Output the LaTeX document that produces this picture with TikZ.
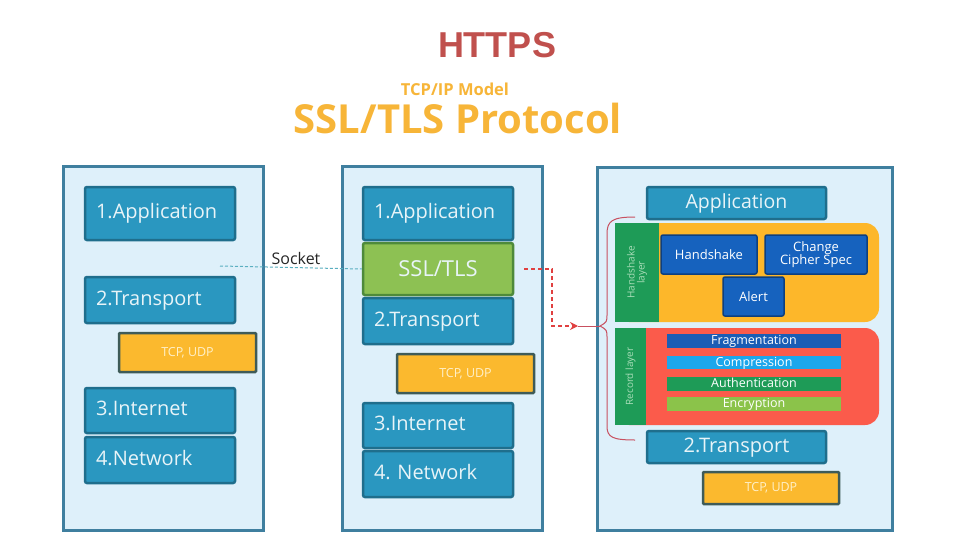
\documentclass[tikz,border=0pt]{standalone}
\usepackage{fontspec}
\setmainfont{Open Sans}
\newfontfamily\arialfont{Liberation Sans}
\usetikzlibrary{arrows.meta}
\definecolor{panelfill}{HTML}{DEF0FA}
\definecolor{panelborder}{HTML}{3F7F9F}
\definecolor{boxfill}{HTML}{2A97C0}
\definecolor{boxborder}{HTML}{1F6E8C}
\definecolor{boxtext}{HTML}{E8F4F8}
\definecolor{sslfill}{HTML}{8DC153}
\definecolor{sslborder}{HTML}{4E8A3A}
\definecolor{tcpfill}{HTML}{FBB92E}
\definecolor{tcpborder}{HTML}{3E5B58}
\definecolor{tcptext}{HTML}{FFF0C8}
\definecolor{hsyellow}{HTML}{FDB72A}
\definecolor{recred}{HTML}{FB5B4B}
\definecolor{sidegreen}{HTML}{1E9B57}
\definecolor{sidetext}{HTML}{A8DDB8}
\definecolor{dblue}{HTML}{1662BE}
\definecolor{dblueborder}{HTML}{0E3F7E}
\definecolor{fragblue}{HTML}{1A5DB5}
\definecolor{compblue}{HTML}{1CA7EC}
\definecolor{authgreen}{HTML}{1E9B57}
\definecolor{encgreen}{HTML}{8BC34A}
\definecolor{titleorange}{HTML}{F7B538}
\definecolor{httpsred}{HTML}{C0504D}
\definecolor{sockline}{HTML}{5AAFC0}
\definecolor{arrowred}{HTML}{E04040}
\definecolor{bracered}{HTML}{C85060}
\tikzset{
  panel/.style={draw=panelborder, fill=panelfill, line width=3pt},
  lbox/.style={draw=boxborder, fill=boxfill, line width=2.5pt, rounded corners=2pt,
    text=boxtext, font=\fontsize{20}{24}\selectfont, align=left, inner xsep=11pt,
    text height=15pt, text depth=5pt},
  cbox/.style={draw=boxborder, fill=boxfill, line width=2.5pt, rounded corners=2pt,
    text=boxtext, font=\fontsize{19.5}{24}\selectfont, align=center,
    text height=15pt, text depth=5pt},
  sslbox/.style={draw=sslborder, fill=sslfill, line width=2.5pt, rounded corners=2pt,
    text=boxtext, font=\fontsize{22}{26}\selectfont, align=center},
  tcpbox/.style={draw=tcpborder, fill=tcpfill, line width=2.5pt, rounded corners=1pt,
    text=tcptext, font=\fontsize{12.5}{14}\selectfont, align=center},
  hbox/.style={draw=dblueborder, fill=dblue, line width=1.5pt, rounded corners=2pt,
    text=white, font=\fontsize{13}{15}\selectfont, align=center, inner sep=0pt},
  bar/.style={draw=none, inner sep=0pt, text=white, font=\fontsize{12.5}{13}\selectfont,
    text height=9pt, text depth=2pt},
  sidelabel/.style={text=sidetext, font=\fontsize{10}{12}\selectfont, align=center, rotate=90}
}
\frenchspacing
\begin{document}
\begin{tikzpicture}[x=1pt,y=-1pt]
\useasboundingbox (0,0) rectangle (966,533);
\fill[white] (0,0) rectangle (966,533);

% titles
\node[text=httpsred, font=\arialfont\bfseries\fontsize{36}{40}\selectfont] (https) at (497,45) {HTTPS};
\node[text=titleorange, font=\bfseries\fontsize{16.5}{18}\selectfont, anchor=base] (tcpip) at (455,95) {TCP/IP Model};
\node[text=titleorange, font=\bfseries\fontsize{40}{44}\selectfont, anchor=base] (ssltitle) at (458,133) {SSL/TLS Protocol};

% panels
\draw[panel] (63,166) rectangle (263,530);
\draw[panel] (342,166) rectangle (542,530);
\draw[panel] (597,167) rectangle (892,530);

% panel 1
\node[lbox, minimum height=53pt, text width=128pt] (a1) at (160,213.5) {1.Application};
\node[lbox, minimum height=46pt, text width=128pt] (t1) at (160,300) {2.Transport};
\node[tcpbox, minimum width=137pt, minimum height=39pt] (tcp1) at (187.5,352.5) {TCP, UDP};
\node[lbox, minimum height=45pt, text width=128pt] (i1) at (160,410.5) {3.Internet};
\node[lbox, minimum height=46pt, text width=128pt] (n1) at (160,460) {4.Network};

% panel 2
\node[lbox, minimum height=53pt, text width=128pt] (a2) at (438,213.5) {1.Application};
\node[sslbox, minimum width=150pt, minimum height=52pt] (ssl) at (438,269) {SSL/TLS};
\node[lbox, minimum height=46pt, text width=128pt] (t2) at (438,321) {2.Transport};
\node[tcpbox, minimum width=137pt, minimum height=39pt] (tcp2) at (465.5,373.5) {TCP, UDP};
\node[lbox, minimum height=45pt, text width=128pt] (i2) at (438,425.5) {3.Internet};
\node[lbox, minimum height=46pt, text width=128pt] (n2) at (438,474) {4. Network};

% socket
\coordinate (sockL) at (220,266);
\draw[sockline, densely dashed, line width=1pt] (sockL) -- (ssl.west);
\node[font=\fontsize{16}{18}\selectfont, text=black!85, anchor=base] (socket) at (296,264) {Socket};

% panel 3
\node[cbox, minimum width=179pt, minimum height=32pt, inner sep=0pt] (app3) at (736.5,203) {Application};

\fill[hsyellow, rounded corners=14pt] (615,223) rectangle (879,322);
\fill[sidegreen] (615,223) rectangle (659,322);
\node[sidelabel] (hslabel) at (637,272.5) {Handshake\\[-2pt]layer};
\node[hbox, minimum width=96pt, minimum height=39pt] (hsk) at (709,254.5) {Handshake};
\node[hbox, minimum width=102pt, minimum height=39pt] (ccs) at (816,254.5) {Change\\[-2pt]Cipher Spec};
\node[hbox, minimum width=61pt, minimum height=39pt] (alert) at (753.5,296.5) {Alert};

\fill[recred, rounded corners=14pt] (615,328) rectangle (879,425);
\fill[sidegreen] (615,328) rectangle (646,425);
\node[sidelabel] (reclabel) at (630.5,376.5) {Record layer};
\node[bar, fill=fragblue, minimum width=174pt, minimum height=14pt] (frag) at (754,341) {Fragmentation};
\node[bar, fill=compblue, minimum width=174pt, minimum height=13pt] (comp) at (754,362.5) {Compression};
\node[bar, fill=authgreen, minimum width=174pt, minimum height=14pt] (auth) at (754,384) {Authentication};
\node[bar, fill=encgreen, minimum width=174pt, minimum height=14pt] (enc) at (754,404) {Encryption};

\node[cbox, minimum width=179pt, minimum height=32pt, inner sep=0pt, font=\fontsize{20}{24}\selectfont] (t3) at (736.5,447) {2.Transport};
\node[tcpbox, minimum width=136pt, minimum height=32pt] (tcp3) at (771,488) {TCP, UDP};

% brace
\coordinate (bracetip) at (600,326);
\coordinate (arrowend) at (578,326);
\draw[bracered, line width=1pt] (635,217) .. controls (612,217) and (607,221) .. (607,234) -- (607,314)
  .. controls (607,322) .. (bracetip) .. controls (607,330) .. (607,338) -- (607,426)
  .. controls (607,437) and (612,440) .. (635,440);
\draw[bracered, line width=1pt] (arrowend) -- (bracetip);

% red dashed arrow
\draw[arrowred, dash pattern=on 4pt off 3pt, line width=1.8pt, -{Stealth[length=8pt,width=8pt]}]
  ([xshift=10pt]ssl.east) -- ++(28,0) |- (arrowend);
\end{tikzpicture}
\end{document}
